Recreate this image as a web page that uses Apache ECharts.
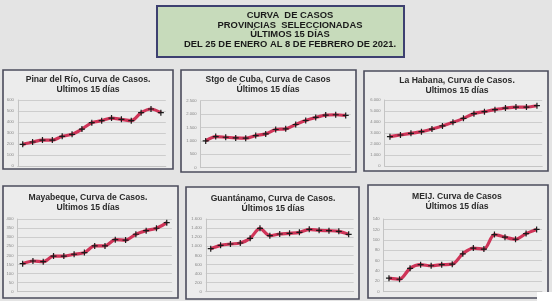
<!DOCTYPE html>
<html><head><meta charset="utf-8">
<script src="https://cdn.jsdelivr.net/npm/echarts@6/dist/echarts.min.js"></script>
<style>html,body{margin:0;padding:0;background:#e4e4e4;}#c{width:552px;height:301px;}</style>
</head><body><div id="c"></div>
<script>
const days = ['25 ene','26 ene','27 ene','28 ene','29 ene','30 ene','31 ene','1 feb','2 feb','3 feb','4 feb','5 feb','6 feb','7 feb','8 feb'];
const pinar = [197,218,236,236,270,288,336,394,412,436,424,412,485,518,485];
const stgo = [1000,1160,1137,1112,1100,1200,1262,1425,1450,1612,1762,1875,1962,1975,1950];
const habana = [2670,2820,2970,3120,3360,3640,3970,4330,4760,4940,5120,5270,5360,5360,5480];
const mayabeque = [154,169,165,196,196,206,215,252,252,286,284,316,336,349,380];
const guantanamo = [947,1020,1050,1072,1174,1394,1233,1270,1284,1306,1372,1350,1343,1328,1262];
const meij = [26,24,45,52,50,52,53,73,84,82,110,105,101,112,120];

const headerLines = ['CURVA  DE CASOS','PROVINCIAS  SELECCIONADAS','ÚLTIMOS 15 DÍAS','DEL 25 DE ENERO AL 8 DE FEBRERO DE 2021.'];
const panelTitles = [
  ['Pinar del Río, Curva de Casos.','Ultimos 15 días'],
  ['Stgo de Cuba, Curva de Casos','Últimos 15 días'],
  ['La Habana, Curva de Casos.','Ultimos 15 días'],
  ['Mayabeque, Curva de Casos.','Ultimos 15 días'],
  ['Guantánamo, Curva de Casos.','Últimos 15 días'],
  ['MEIJ. Curva de Casos','Últimos 15 días']
];
const yMax = [600,2500,6000,400,1600,140];
const yStep = [100,500,1000,50,200,20];
const seriesData = [pinar,stgo,habana,mayabeque,guantanamo,meij];

// layout
const boxes = [[3,70,170,99],[181,70,175,102],[364,71,184,100],[3,186,175,112],[186,187,173,112],[368,185,180,113]];
const grids = [[17.8,100,148,66],[200.7,100.7,150,67],[384.7,100,157.5,66],[17.5,219,154.4,72.7],[205.8,219,147.8,72.7],[383.7,219,158.2,72.7]];
const titlePos = [[88,74.5],[268,75],[457,75.5],[88,193],[273,193.5],[457,192]];

function fmt(v){ return String(v).replace(/\B(?=(\d{3})+(?!\d))/g,'.'); }

const chart = echarts.init(document.getElementById('c'));
const option = {
  backgroundColor:'#e4e4e4',
  animation:false,
  title:[{
    text: headerLines.join('\n'), left:290, top:10.5, textAlign:'center', padding:0,
    textStyle:{fontFamily:'Liberation Sans, Arial',fontWeight:'bold',fontSize:9.4,lineHeight:9.7,color:'#1a1a1a'}
  }].concat(panelTitles.map((t,i)=>({
    text:t.join('\n'), left:titlePos[i][0], top:titlePos[i][1], textAlign:'center', padding:0,
    textStyle:{fontFamily:'Liberation Sans, Arial',fontWeight:'bold',fontSize:8.6,lineHeight:10,color:'#2a2a2a'}
  }))),
  graphic: [{
    type:'rect', z:-1, shape:{x:157,y:6,width:247,height:51},
    style:{fill:'#c7dbbb',stroke:'#3d4070',lineWidth:2}
  }].concat(boxes.map(b=>({
    type:'rect', z:-1, shape:{x:b[0],y:b[1],width:b[2],height:b[3]},
    style:{fill:'#ececec',stroke:'#4b4c5c',lineWidth:1.6}
  }))).concat([{type:'rect',z:5,shape:{x:537,y:292,width:15,height:9},style:{fill:'#ffffff'}}]),
  grid: grids.map(g=>({left:g[0],top:g[1],width:g[2],height:g[3],containLabel:false})),
  xAxis: grids.map((g,i)=>({type:'category',gridIndex:i,data:days,boundaryGap:true,
    axisLabel:{show:false},axisTick:{show:false},axisLine:{show:true,lineStyle:{color:'#c4c4c4',width:1}}})),
  yAxis: grids.map((g,i)=>({type:'value',gridIndex:i,min:0,max:yMax[i],interval:yStep[i],
    axisLabel:{fontSize:4.2,color:'#888',margin:4,formatter:v=>fmt(v),fontFamily:'Liberation Sans, Arial'},
    axisTick:{show:false},axisLine:{show:true,lineStyle:{color:'#c4c4c4',width:1}},
    splitLine:{lineStyle:{color:'#cdcdcd',width:1}}})),
  series: seriesData.map((d,i)=>({type:'line',xAxisIndex:i,yAxisIndex:i,data:d,
    smooth:0.3,
    lineStyle:{color:'#cf3458',width:3.2},
    symbol:'path://M4,0L6,0L6,4L10,4L10,6L6,6L6,10L4,10L4,6L0,6L0,4L4,4Z',
    symbolSize:6,
    itemStyle:{color:'#1a1a1a',borderWidth:0}
  }))
};
chart.setOption(option);
</script>
</body></html>
